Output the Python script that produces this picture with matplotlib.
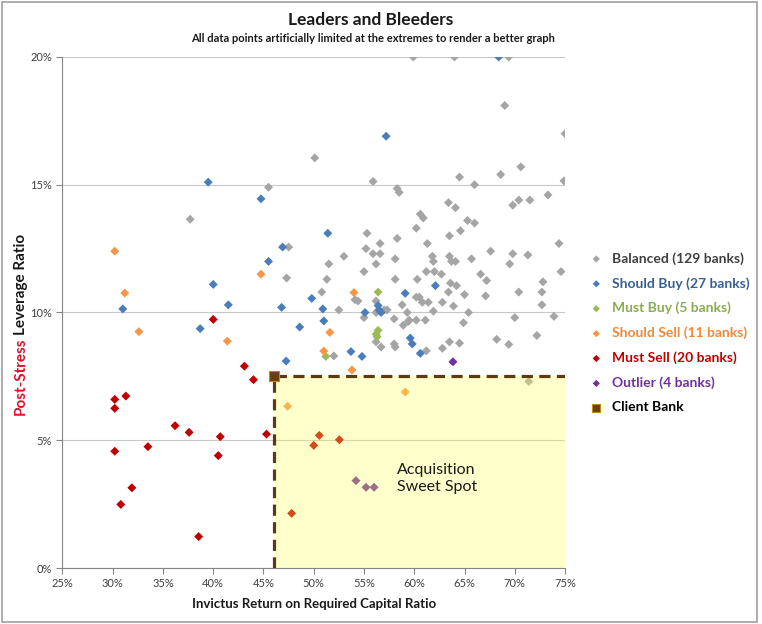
import numpy as np
import matplotlib
matplotlib.use("Agg")
import matplotlib.pyplot as plt
from matplotlib.patches import Rectangle
from matplotlib.ticker import FuncFormatter

plt.rcParams["font.family"] = ["Lato", "DejaVu Sans"]

# data: (return on required capital %, post-stress leverage %)
balanced = [
    (59.9, 20.0), (64.0, 20.0), (69.4, 20.0), (69.0, 18.1), (75.0, 17.0),
    (74.9, 15.15), (50.1, 16.05), (37.7, 13.65), (45.5, 14.9), (47.5, 12.56),
    (47.3, 11.35), (55.9, 15.13), (58.3, 14.85), (58.5, 14.7), (60.6, 13.85),
    (60.9, 13.7), (60.2, 13.3), (55.3, 13.1), (58.3, 12.9), (56.6, 12.7),
    (55.2, 12.5), (55.9, 12.3), (56.6, 12.3), (53.0, 12.2), (61.3, 12.7),
    (61.8, 12.2), (61.9, 12.0), (51.5, 11.9), (56.2, 11.9), (58.1, 12.1),
    (55.0, 11.6), (51.3, 11.3), (58.1, 11.3), (60.3, 11.3), (61.2, 11.6),
    (62.0, 11.6), (50.8, 10.8), (54.1, 10.5), (54.4, 10.45), (56.2, 10.45),
    (57.0, 10.1), (52.5, 10.1), (58.8, 10.3), (60.2, 10.6), (60.5, 10.6),
    (60.8, 10.4), (61.4, 10.4), (55.0, 9.8), (56.2, 10.0), (59.3, 10.0),
    (59.5, 9.7), (60.2, 9.7), (61.1, 9.7), (58.9, 9.5), (56.2, 8.85),
    (56.7, 8.65), (58.0, 8.77), (61.2, 8.5), (52.0, 8.3), (64.5, 15.3),
    (66.0, 15.0), (68.6, 15.4), (70.6, 15.7), (63.4, 14.3), (64.1, 14.1),
    (69.8, 14.2), (70.4, 14.4), (71.5, 14.4), (73.3, 14.6), (65.3, 13.6),
    (66.0, 13.5), (64.6, 13.2), (63.5, 13.0), (67.6, 12.4), (65.7, 12.1),
    (69.8, 12.3), (69.5, 11.9), (71.3, 12.25), (74.4, 12.7), (74.6, 11.6),
    (63.5, 12.2), (63.7, 12.0), (64.1, 12.0), (62.7, 11.5), (66.6, 11.5),
    (67.2, 11.25), (63.6, 11.15), (64.2, 11.05), (63.4, 10.8), (65.0, 10.7),
    (72.8, 11.2), (72.7, 10.8), (70.4, 10.8), (67.1, 10.65), (62.8, 10.4),
    (63.9, 10.25), (72.7, 10.3), (61.9, 10.05), (65.4, 10.0), (64.9, 9.6),
    (70.0, 9.8), (73.9, 9.85), (68.2, 8.95), (69.4, 8.75), (72.2, 9.1),
    (63.5, 8.85), (64.5, 8.8), (62.8, 8.6), (71.4, 7.3), (58.0, 9.75),
    (59.4, 9.65), (57.3, 10.1), (58.1, 8.65),
]
should_buy = [
    (68.4, 20.0), (57.2, 16.9), (39.5, 15.1), (44.75, 14.45), (46.9, 12.56),
    (45.5, 12.0), (51.4, 13.1), (40.0, 11.1), (41.5, 10.3), (46.8, 10.2),
    (49.8, 10.55), (38.7, 9.37), (48.6, 9.43), (47.25, 8.1), (31.0, 10.14),
    (50.9, 10.14), (51.0, 9.67), (55.1, 10.0), (56.4, 10.27), (56.7, 10.0),
    (56.5, 10.1), (59.1, 10.75), (59.6, 9.0), (59.8, 8.77), (60.6, 8.4),
    (53.7, 8.47), (54.8, 8.28), (62.1, 11.05),
]
must_buy = [(56.4, 10.8), (56.4, 9.3), (56.3, 9.05), (56.2, 9.15), (51.2, 8.28)]
should_sell = [
    (30.2, 12.4), (31.2, 10.76), (32.6, 9.25), (44.75, 11.5), (41.4, 8.88),
    (47.4, 6.33), (54.0, 10.78), (51.6, 9.22), (51.0, 8.49), (53.8, 7.75),
    (59.1, 6.89),
]
must_sell = [
    (40.0, 9.73), (43.1, 7.9), (44.0, 7.37), (30.2, 6.6), (31.3, 6.73),
    (30.2, 6.25), (36.2, 5.57), (37.6, 5.31), (40.7, 5.14), (45.3, 5.24),
    (30.2, 4.57), (33.5, 4.75), (40.5, 4.4), (31.9, 3.14), (30.8, 2.49),
    (38.55, 1.23), (47.8, 2.14), (50.55, 5.19), (50.0, 4.8), (52.55, 5.02),
]
outlier = [(63.85, 8.07), (54.2, 3.42), (55.2, 3.16), (56.0, 3.16)]
client_bank = (46.0, 7.5)

series = [
    ("Balanced (129 banks)", balanced, "#a5a5a5", "#404040"),
    ("Should Buy (27 banks)", should_buy, "#4a7ebb", "#376092"),
    ("Must Buy (5 banks)", must_buy, "#9bbb59", "#8aac4a"),
    ("Should Sell (11 banks)", should_sell, "#f79646", "#f0883a"),
    ("Must Sell (20 banks)", must_sell, "#c00000", "#c00000"),
    ("Outlier (4 banks)", outlier, "#7030a0", "#7030a0"),
]

fig = plt.figure(figsize=(7.62, 6.24), dpi=100)
ax = fig.add_axes([0.082, 0.0897, 0.6595, 0.819])

handles = []
for name, pts, color, _ in series:
    arr = np.array(pts)
    h = ax.scatter(arr[:, 0], arr[:, 1], marker="D", s=21, color=color,
                   edgecolors="none", zorder=3, label=name)
    handles.append(h)

# sweet-spot box, drawn over the points with transparency
cx, cy = client_bank
ax.add_patch(Rectangle((cx, 0), 75 - cx, cy, facecolor="#ffff55",
                       alpha=0.3, edgecolor="none", zorder=4))
ax.plot([cx, cx, 75], [0, cy, cy], color="#5e3a14", lw=2.3,
        ls=(0, (3.5, 2)), zorder=5)
hc = ax.scatter([cx], [cy], marker="s", s=55, color="#6b3f0a",
                edgecolors="#c08a1a", linewidths=0.8, zorder=6,
                label="Client Bank")
handles.append(hc)

ax.text(58.3, 3.5, "Acquisition\nSweet Spot", fontsize=11.5,
        color="#1a1a1a", va="center", ha="left", zorder=7,
        linespacing=1.3)

ax.set_xlim(25, 75)
ax.set_ylim(0, 20)
ax.set_xticks(np.arange(25, 76, 5))
ax.set_yticks(np.arange(0, 21, 5))
pct = FuncFormatter(lambda v, _: f"{v:.0f}%")
ax.xaxis.set_major_formatter(pct)
ax.yaxis.set_major_formatter(pct)
ax.tick_params(labelsize=8, colors="#868686", labelcolor="#404040",
               length=4, direction="out")
ax.grid(axis="y", color="#c8c8c8", lw=0.8, zorder=0)
ax.set_axisbelow(True)
for side in ["top", "right"]:
    ax.spines[side].set_visible(False)
for side in ["left", "bottom"]:
    ax.spines[side].set_color("#868686")

ax.set_xlabel("Invictus Return on Required Capital Ratio", fontsize=9.5,
              fontweight="bold", color="#1a1a1a", labelpad=6)

# y label in two colours
fig.canvas.draw()
r = fig.canvas.get_renderer()
y0 = 0.335
t1 = fig.text(0.027, y0, "Post-Stress", rotation=90, fontsize=11,
              fontweight="bold", color="#e0102a", ha="center", va="bottom")
bb = t1.get_window_extent(r).transformed(fig.transFigure.inverted())
fig.text(0.027, bb.y1 + 0.004, "Leverage Ratio", rotation=90, fontsize=11,
         fontweight="bold", color="#1a1a1a", ha="center", va="bottom")

fig.text(0.487, 0.968, "Leaders and Bleeders", fontsize=12.5,
         fontweight="bold", ha="center", va="center", color="#1a1a1a")
fig.text(0.49, 0.938,
         "All data points artificially limited at the extremes to render a better graph",
         fontsize=8, fontweight="bold", ha="center", va="center",
         color="#1a1a1a")

leg = fig.legend(handles=handles, loc="upper left",
                 bbox_to_anchor=(0.757, 0.605), frameon=False,
                 fontsize=10, handletextpad=0.1, labelspacing=0.88,
                 markerscale=0.8, borderaxespad=0)
text_colors = [c[3] for c in series] + ["#000000"]
for txt, c in zip(leg.get_texts(), text_colors):
    txt.set_color(c)
    txt.set_fontweight("bold")

fig.add_artist(Rectangle((0.002, 0.004), 0.991, 0.992,
                         transform=fig.transFigure, fill=False,
                         edgecolor="#a0a0a0", lw=1.2))

fig.savefig("out.png", dpi=100)
